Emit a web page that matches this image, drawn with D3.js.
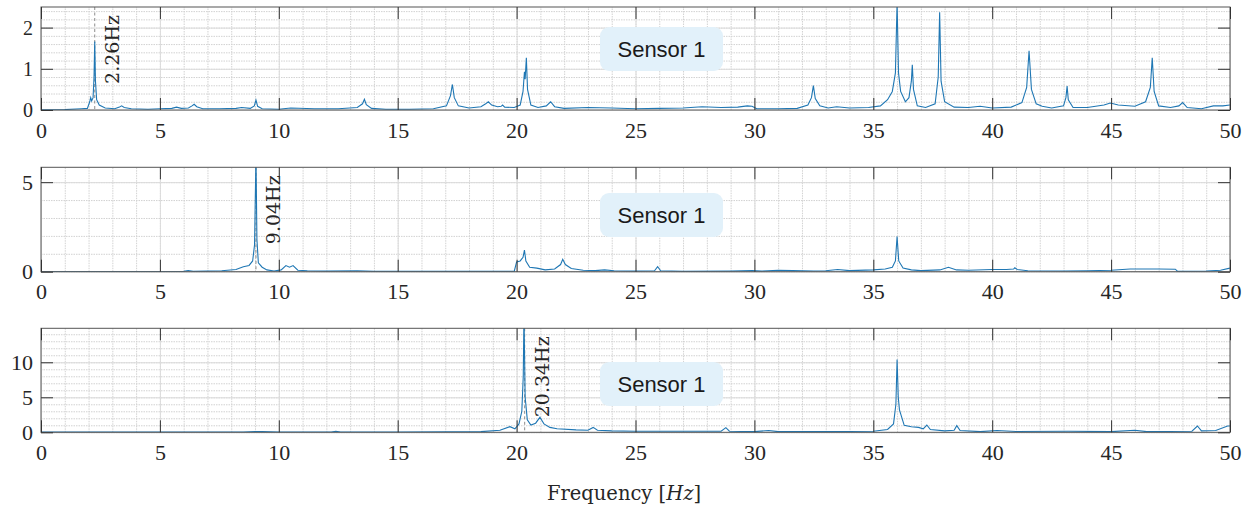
<!DOCTYPE html>
<html>
<head>
<meta charset="utf-8">
<script src="https://cdn.jsdelivr.net/npm/d3@7"></script>
<style>
  body { margin: 0; background: #fff; }
  text { fill: #262626; }
</style>
</head>
<body>
<svg id="chart" width="1251" height="509"></svg>
<script>
// spectrum amplitude, [frequency Hz, amplitude]
var sensorTop = [[0,0.005],[1.0,0.01],[1.7,0.03],[1.95,0.04],[2.05,0.2],[2.09,0.3],[2.13,0.22],[2.19,0.3],[2.23,0.8],[2.26,1.66],[2.29,0.7],[2.34,0.25],[2.45,0.12],[2.7,0.05],[3.1,0.03],[3.3,0.07],[3.39,0.1],[3.5,0.06],[3.8,0.03],[4.5,0.02],[5.0,0.03],[5.5,0.04],[5.7,0.07],[5.9,0.04],[6.2,0.05],[6.35,0.1],[6.44,0.14],[6.55,0.08],[6.8,0.03],[7.5,0.03],[8.2,0.04],[8.44,0.06],[8.8,0.04],[8.97,0.1],[9.04,0.24],[9.11,0.09],[9.3,0.03],[10.0,0.02],[10.5,0.05],[11.5,0.03],[12.5,0.03],[13.3,0.06],[13.52,0.15],[13.6,0.26],[13.68,0.13],[13.9,0.04],[14.5,0.02],[15.5,0.02],[16.5,0.03],[17.05,0.1],[17.22,0.35],[17.3,0.62],[17.38,0.3],[17.55,0.1],[18.0,0.05],[18.5,0.08],[18.7,0.15],[18.81,0.2],[18.95,0.12],[19.2,0.08],[19.35,0.09],[19.41,0.12],[19.5,0.07],[19.9,0.06],[20.15,0.12],[20.27,0.45],[20.33,0.93],[20.36,0.75],[20.41,1.27],[20.46,0.5],[20.6,0.12],[20.9,0.06],[21.25,0.1],[21.43,0.2],[21.6,0.08],[22.0,0.04],[23.0,0.06],[24.0,0.05],[25.0,0.03],[26.0,0.04],[27.0,0.05],[27.8,0.08],[28.6,0.06],[29.3,0.07],[29.7,0.1],[29.9,0.09],[30.1,0.03],[31.0,0.03],[31.8,0.04],[32.25,0.12],[32.4,0.3],[32.48,0.59],[32.56,0.28],[32.75,0.1],[33.1,0.05],[33.46,0.08],[34.0,0.05],[34.8,0.06],[35.3,0.1],[35.6,0.25],[35.8,0.45],[35.93,0.9],[36.0,2.6],[36.06,0.9],[36.15,0.45],[36.35,0.2],[36.5,0.3],[36.6,0.7],[36.64,1.1],[36.69,0.5],[36.85,0.1],[37.2,0.06],[37.6,0.15],[37.73,0.8],[37.79,2.37],[37.85,0.7],[38.0,0.2],[38.4,0.07],[39.0,0.06],[39.49,0.09],[40.0,0.05],[40.8,0.07],[41.25,0.18],[41.45,0.55],[41.55,1.44],[41.65,0.5],[41.85,0.15],[42.1,0.09],[42.5,0.05],[43.0,0.1],[43.1,0.3],[43.15,0.58],[43.2,0.25],[43.4,0.06],[44.0,0.06],[44.7,0.12],[44.97,0.17],[45.3,0.12],[46.0,0.09],[46.45,0.2],[46.65,0.55],[46.73,1.27],[46.81,0.45],[47.0,0.1],[47.5,0.06],[47.85,0.1],[48.01,0.18],[48.2,0.06],[48.8,0.03],[49.3,0.1],[49.7,0.1],[50,0.12]];

var sensorMid = [[0,0.005],[3,0.005],[5.5,0.01],[6.0,0.02],[6.19,0.06],[6.4,0.02],[7.0,0.03],[7.6,0.05],[8.2,0.12],[8.51,0.28],[8.75,0.35],[8.9,0.6],[8.98,1.5],[9.04,6.5],[9.08,1.8],[9.14,0.5],[9.3,0.25],[9.5,0.1],[9.8,0.04],[10.1,0.1],[10.3,0.34],[10.45,0.25],[10.6,0.34],[10.8,0.08],[11.2,0.05],[12.0,0.03],[13.3,0.05],[14.0,0.02],[16.0,0.02],[18.0,0.02],[19.9,0.02],[20.0,0.55],[20.15,0.6],[20.27,0.8],[20.33,1.21],[20.39,0.6],[20.55,0.25],[20.85,0.2],[21.2,0.1],[21.6,0.15],[21.85,0.4],[21.94,0.69],[22.05,0.4],[22.3,0.18],[22.8,0.08],[23.3,0.06],[23.7,0.1],[24.1,0.05],[25.0,0.03],[25.8,0.05],[25.93,0.28],[26.06,0.05],[27.0,0.02],[29.0,0.03],[29.9,0.06],[30.3,0.03],[31.0,0.08],[31.6,0.06],[32.5,0.04],[33.0,0.05],[33.5,0.12],[34.0,0.06],[35.0,0.1],[35.5,0.15],[35.8,0.25],[35.93,0.6],[36.0,1.96],[36.07,0.6],[36.25,0.2],[36.6,0.1],[37.0,0.06],[37.8,0.1],[38.16,0.25],[38.5,0.1],[39.0,0.08],[40.0,0.12],[40.6,0.12],[40.9,0.15],[40.95,0.22],[41.05,0.12],[41.5,0.05],[43.0,0.04],[44.0,0.05],[45.0,0.08],[45.8,0.15],[46.5,0.15],[47.0,0.15],[47.7,0.14],[47.8,0.02],[49.0,0.03],[49.6,0.08],[50,0.2]];

var sensorBottom = [[0,0.02],[5,0.02],[8.5,0.05],[9.0,0.12],[9.3,0.1],[10,0.03],[12.2,0.05],[12.4,0.15],[12.6,0.05],[15,0.05],[17,0.08],[18.5,0.1],[19.3,0.3],[19.72,0.8],[19.93,0.5],[20.1,1.2],[20.22,3],[20.28,8],[20.31,17],[20.36,5],[20.45,1.8],[20.6,1.04],[20.8,1.3],[20.98,2.14],[21.15,1.2],[21.4,0.7],[21.7,0.5],[22.5,0.35],[23.0,0.3],[23.22,0.7],[23.4,0.3],[24,0.2],[25,0.15],[27,0.15],[28.6,0.15],[28.8,0.66],[28.95,0.15],[30,0.1],[30.6,0.25],[31,0.1],[33,0.1],[35,0.15],[35.6,0.4],[35.85,1.2],[35.95,4],[36.0,10.4],[36.05,5],[36.1,3.2],[36.3,1.0],[36.6,0.8],[36.9,0.7],[37.1,0.5],[37.25,1.04],[37.4,0.4],[38.0,0.2],[38.4,0.3],[38.51,0.95],[38.65,0.25],[39.5,0.1],[40.2,0.25],[41,0.12],[43.2,0.15],[45,0.1],[46,0.3],[46.5,0.1],[48.4,0.15],[48.63,0.9],[48.8,0.2],[49.4,0.25],[49.9,0.9],[50,0.9]];

var xTicks = [0, 5, 10, 15, 20, 25, 30, 35, 40, 45, 50];
var yTicksTop = [0, 1, 2];
var yTicksMid = [0, 5];
var yTicksBottom = [0, 5, 10];
var peakFreqs = [2.26, 9.04, 20.34];
var peakLabels = ["2.26Hz", "9.04Hz", "20.34Hz"];
var legendLabel = "Sensor 1";

var svg = d3.select("#chart");
var left = 41, right = 1230;
var x = d3.scaleLinear().domain([0, 50]).range([left, right]);

var panels = [
  {data: sensorTop, yMax: 2.5, yTicks: yTicksTop, minorStep: 0.2, top: 7, bottom: 110, legendY: 27, yFont: 20},
  {data: sensorMid, yMax: 5.83, yTicks: yTicksMid, minorStep: 1, top: 167.3, bottom: 271.7, legendY: 193, yFont: 22},
  {data: sensorBottom, yMax: 14.85, yTicks: yTicksBottom, minorStep: 1, top: 328.3, bottom: 432.3, legendY: 362, yFont: 22}
];

panels.forEach(function(p, i) {
  var y = d3.scaleLinear().domain([0, p.yMax]).range([p.bottom, p.top]);
  var h = p.bottom - p.top;
  var g = svg.append("g");

  // minor grid (dotted)
  g.append("g")
    .attr("transform", "translate(0," + p.bottom + ")")
    .call(d3.axisBottom(x).tickValues(d3.range(0, 51, 1)).tickSize(-h).tickFormat(""))
    .call(function(a) {
      a.select(".domain").remove();
      a.selectAll("line").attr("stroke", "#d2d2d2").attr("stroke-dasharray", "1.5,1");
    });
  g.append("g")
    .attr("transform", "translate(" + left + ",0)")
    .call(d3.axisLeft(y).tickValues(d3.range(0, p.yMax, p.minorStep)).tickSize(-(right - left)).tickFormat(""))
    .call(function(a) {
      a.select(".domain").remove();
      a.selectAll("line").attr("stroke", "#d2d2d2").attr("stroke-dasharray", "1.5,1");
    });

  // major grid
  g.append("g")
    .attr("transform", "translate(0," + p.bottom + ")")
    .call(d3.axisBottom(x).tickValues(xTicks).tickSize(-h).tickFormat(""))
    .call(function(a) {
      a.select(".domain").remove();
      a.selectAll("line").attr("stroke", "#dcdcdc");
    });
  g.append("g")
    .attr("transform", "translate(" + left + ",0)")
    .call(d3.axisLeft(y).tickValues(p.yTicks).tickSize(-(right - left)).tickFormat(""))
    .call(function(a) {
      a.select(".domain").remove();
      a.selectAll("line").attr("stroke", "#dcdcdc");
    });

  // legend box
  g.append("rect")
    .attr("x", 600).attr("y", p.legendY)
    .attr("width", 123).attr("height", 44)
    .attr("rx", 9)
    .attr("fill", "#e2f1fa");
  g.append("text")
    .attr("x", 661.5).attr("y", p.legendY + 22)
    .attr("dy", "0.35em")
    .attr("text-anchor", "middle")
    .style("font-family", "'Liberation Sans', Arial, sans-serif")
    .style("font-size", "22px")
    .style("fill", "#1a1a1a")
    .text(legendLabel);

  // dashed marker line at the identified peak
  g.append("line")
    .attr("x1", x(peakFreqs[i])).attr("x2", x(peakFreqs[i]))
    .attr("y1", p.top).attr("y2", p.bottom)
    .attr("stroke", "#8c8c8c")
    .attr("stroke-dasharray", "3,2.5");

  // the spectrum
  svg.append("clipPath").attr("id", "clip" + i)
    .append("rect")
    .attr("x", left).attr("y", p.top)
    .attr("width", right - left).attr("height", h);
  var line = d3.line()
    .x(function(d) { return x(d[0]); })
    .y(function(d) { return y(d[1]); });
  g.append("path")
    .attr("clip-path", "url(#clip" + i + ")")
    .attr("d", line(p.data))
    .attr("fill", "none")
    .attr("stroke", "#1f77b4")
    .attr("stroke-width", 1.1);

  // peak label
  g.append("text")
    .attr("transform", "translate(" + (x(peakFreqs[i]) + 24) + "," + (p.top + 8) + ") rotate(-90)")
    .attr("text-anchor", "end")
    .style("font-family", "'DejaVu Serif', serif")
    .style("font-size", "19px")
    .text(peakLabels[i]);

  // box
  g.append("rect")
    .attr("x", left).attr("y", p.top)
    .attr("width", right - left).attr("height", h)
    .attr("fill", "none")
    .attr("stroke", "#555");

  // inward ticks on all four sides
  var tickStyle = function(a) {
    a.select(".domain").remove();
    a.selectAll("line").attr("stroke", "#333");
  };
  g.append("g").attr("transform", "translate(0," + p.bottom + ")")
    .call(d3.axisBottom(x).tickValues(xTicks).tickSize(-12).tickFormat("")).call(tickStyle);
  g.append("g").attr("transform", "translate(0," + p.top + ")")
    .call(d3.axisTop(x).tickValues(xTicks).tickSize(-12).tickFormat("")).call(tickStyle);
  g.append("g").attr("transform", "translate(" + left + ",0)")
    .call(d3.axisLeft(y).tickValues(p.yTicks).tickSize(-12).tickFormat("")).call(tickStyle);
  g.append("g").attr("transform", "translate(" + right + ",0)")
    .call(d3.axisRight(y).tickValues(p.yTicks).tickSize(-12).tickFormat("")).call(tickStyle);

  // tick labels
  var labelStyle = function(size) {
    return function(a) {
      a.select(".domain").remove();
      a.selectAll("line").remove();
      a.selectAll("text")
        .style("font-family", "'Liberation Serif', serif")
        .style("font-size", size + "px")
        .style("fill", "#262626");
    };
  };
  g.append("g").attr("transform", "translate(0," + p.bottom + ")")
    .call(d3.axisBottom(x).tickValues(xTicks).tickSize(0).tickPadding(12).tickFormat(d3.format("d")))
    .call(labelStyle(22));
  g.append("g").attr("transform", "translate(" + left + ",0)")
    .call(d3.axisLeft(y).tickValues(p.yTicks).tickSize(0).tickPadding(8).tickFormat(d3.format("d")))
    .call(labelStyle(p.yFont));
});

// x axis title
var title = svg.append("text")
  .attr("x", 624).attr("y", 500)
  .attr("text-anchor", "middle")
  .style("font-family", "'DejaVu Serif', serif")
  .style("font-size", "19.5px");
title.append("tspan").text("Frequency [");
title.append("tspan").style("font-style", "italic").text("Hz");
title.append("tspan").text("]");
</script>
</body>
</html>
